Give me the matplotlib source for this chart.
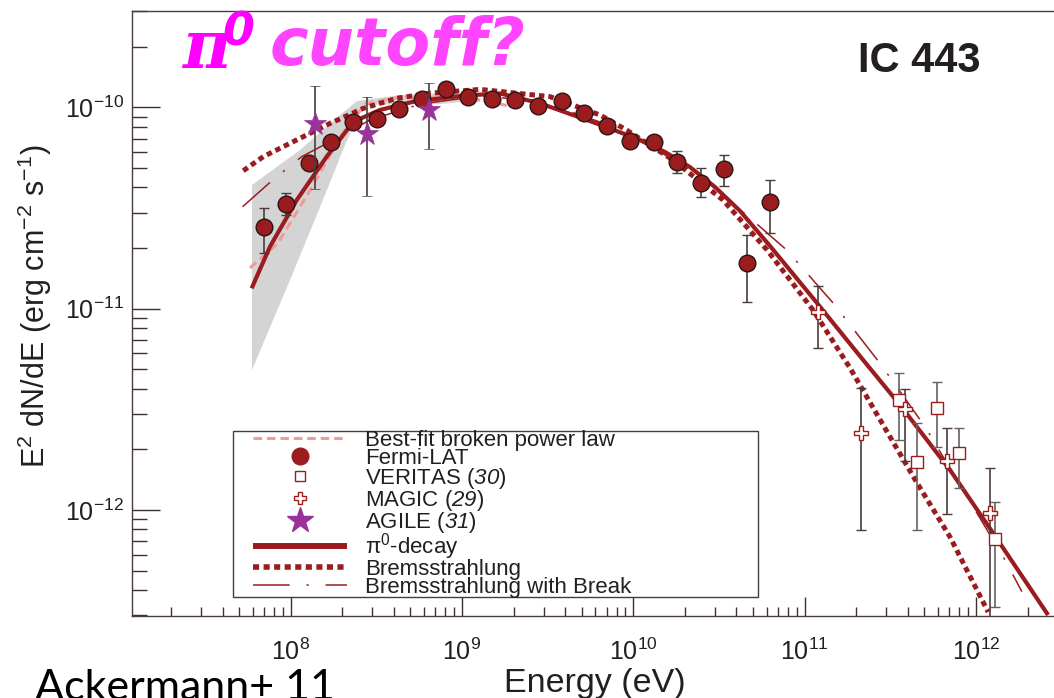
import numpy as np
import matplotlib
matplotlib.use("Agg")
import matplotlib.pyplot as plt
from matplotlib.lines import Line2D
from matplotlib.patches import Rectangle
from matplotlib.ticker import LogLocator, NullFormatter

plt.rcParams['font.family'] = ['Liberation Sans', 'DejaVu Sans']
plt.rcParams['mathtext.fontset'] = 'custom'
plt.rcParams['mathtext.rm'] = 'Liberation Sans'
plt.rcParams['mathtext.it'] = 'Liberation Sans:italic'
plt.rcParams['mathtext.sf'] = 'Liberation Sans:italic'
plt.rcParams['mathtext.bf'] = 'Liberation Sans:bold'

# Fermi-LAT points (E in eV, E^2 dN/dE in erg cm^-2 s^-1)
lat_e = [6.98e7, 9.33e7, 1.28e8, 1.72e8, 2.32e8, 3.18e8, 4.31e8, 5.86e8, 8.07e8,
         1.09e9, 1.50e9, 2.04e9, 2.79e9, 3.82e9, 5.15e9, 7.00e9, 9.57e9,
         1.32e10, 1.81e10, 2.47e10, 3.37e10, 4.59e10, 6.28e10]
lat_f = [2.54e-11, 3.31e-11, 5.27e-11, 6.70e-11, 8.45e-11, 8.75e-11, 9.77e-11, 1.10e-10, 1.23e-10,
         1.12e-10, 1.10e-10, 1.09e-10, 1.01e-10, 1.07e-10, 9.33e-11, 8.07e-11, 6.81e-11,
         6.74e-11, 5.37e-11, 4.22e-11, 4.92e-11, 1.68e-11, 3.37e-11]
lat_lo = [1.89e-11, 2.92e-11, 5.00e-11, 6.40e-11, 8.10e-11, 8.40e-11, 9.40e-11, 1.06e-10, 1.19e-10,
          1.08e-10, 1.06e-10, 1.05e-10, 0.97e-10, 1.03e-10, 8.95e-11, 7.70e-11, 6.45e-11,
          6.30e-11, 4.72e-11, 3.57e-11, 4.06e-11, 1.08e-11, 2.38e-11]
lat_hi = [3.16e-11, 3.77e-11, 5.55e-11, 7.00e-11, 8.80e-11, 9.10e-11, 1.01e-10, 1.14e-10, 1.27e-10,
          1.16e-10, 1.14e-10, 1.13e-10, 1.05e-10, 1.11e-10, 9.70e-11, 8.45e-11, 7.15e-11,
          7.20e-11, 6.07e-11, 4.98e-11, 5.79e-11, 2.32e-11, 4.36e-11]

# AGILE (31)
agile_e = [1.39e8, 2.78e8, 6.41e8]
agile_f = [8.26e-11, 7.36e-11, 9.70e-11]
agile_lo = [3.93e-11, 3.64e-11, 6.18e-11]
agile_hi = [1.28e-10, 1.12e-10, 1.32e-10]

# VERITAS (30)
veritas_e = [3.57e11, 4.51e11, 5.90e11, 7.96e11, 1.29e12]
veritas_f = [3.52e-12, 1.73e-12, 3.20e-12, 1.91e-12, 7.15e-13]
veritas_lo = [2.22e-12, 7.94e-13, 2.06e-12, 1.28e-12, 3.30e-13]
veritas_hi = [4.81e-12, 2.71e-12, 4.31e-12, 2.56e-12, 1.09e-12]

# MAGIC (29)
magic_e = [1.20e11, 2.13e11, 3.85e11, 6.75e11, 1.20e12]
magic_f = [9.66e-12, 2.40e-12, 3.17e-12, 1.75e-12, 9.62e-13]
magic_lo = [6.37e-12, 7.94e-13, 1.75e-12, 9.51e-13, 1.0e-13]
magic_hi = [1.29e-11, 4.02e-12, 3.99e-12, 2.54e-12, 1.61e-12]

# model curves, log10(E/eV) and log10(E^2 dN/dE)
pi0_loge = [7.772, 7.879, 8.035, 8.210, 8.365, 8.521, 8.716, 9.008, 9.222, 9.455,
            9.805, 10.039, 10.185, 10.331, 10.477, 10.623, 10.798, 11.072, 11.323,
            11.557, 11.849, 12.100, 12.421]
pi0_logf = [-10.899, -10.692, -10.461, -10.245, -10.072, -10.013, -9.972, -9.942, -9.931, -9.980,
            -10.086, -10.162, -10.222, -10.297, -10.396, -10.515, -10.689, -10.972, -11.236,
            -11.479, -11.802, -12.115, -12.522]

brems_loge = [7.723, 7.840, 8.035, 8.229, 8.424, 8.619, 8.813, 9.105, 9.514,
              9.805, 9.961, 10.232, 10.524, 10.781, 11.049, 11.265, 11.458, 11.656, 11.849, 12.071]
brems_logf = [-10.315, -10.245, -10.162, -10.080, -10.005, -9.955, -9.930, -9.911, -9.947,
              -10.038, -10.113, -10.262, -10.461, -10.709, -11.007, -11.295, -11.578, -11.866,
              -12.135, -12.507]

brk_loge = [7.719, 7.883, 8.064, 8.229, 8.463, 8.755, 9.105, 9.455, 9.805, 10.097,
            10.389, 10.681, 10.895, 11.168, 11.440, 11.703, 11.937, 12.170, 12.268]
brk_logf = [-10.494, -10.370, -10.245, -10.171, -10.063, -9.984, -9.944, -9.969, -10.073, -10.192,
            -10.341, -10.550, -10.709, -10.974, -11.272, -11.587, -11.918, -12.249, -12.406]

bpl_loge = [7.762, 7.926, 8.124, 8.288, 8.434, 8.638, 8.930, 9.105, 9.280]
bpl_logf = [-10.798, -10.674, -10.396, -10.148, -9.984, -9.949, -9.949, -9.964, -9.994]

# LAT butterfly (upper edge left to right, lower edge right to left)
band_up_loge = [7.774, 8.054, 8.288, 8.387, 8.638, 8.871, 9.046, 9.105]
band_up_logf = [-10.386, -10.212, -10.038, -9.969, -9.939, -9.929, -9.939, -9.954]
band_lo_loge = [9.105, 9.046, 8.871, 8.638, 8.422, 8.317, 8.188, 7.996, 7.774]
band_lo_logf = [-9.954, -9.969, -9.984, -9.984, -9.989, -10.187, -10.461, -10.858, -11.305]

dark_red = '#9b1c1f'
pink = '#f29a9a'
purple = '#993399'
err_col = '#4a3c3c'
ink = '#231f20'

W, H = 1054, 698
fig = plt.figure(figsize=(W / 100, H / 100), dpi=100)
ax = fig.add_axes([132 / W, (H - 616) / H, (1057.5 - 132) / W, (616 - 10.7) / H])
ax.set_xscale('log')
ax.set_yscale('log')
ax.set_xlim(10 ** 7.0736, 10 ** 12.476)
ax.set_ylim(10 ** -12.527, 10 ** -9.520)

band_x = np.power(10.0, band_up_loge + band_lo_loge)
band_y = np.power(10.0, band_up_logf + band_lo_logf)
ax.fill(band_x, band_y, color='#d4d4d4', lw=0, zorder=1)

ax.plot(np.power(10.0, bpl_loge), np.power(10.0, bpl_logf), color=pink, lw=2.2,
        ls=(0, (2.8, 1.6)), zorder=2)
ax.plot(np.power(10.0, brk_loge), np.power(10.0, brk_logf), color=dark_red, lw=1.1,
        ls=(0, (24, 11, 1.5, 11)), zorder=2)
ax.plot(np.power(10.0, brems_loge), np.power(10.0, brems_logf), color=dark_red, lw=3.6,
        ls=(0, (1.1, 0.8)), zorder=3)
ax.plot(np.power(10.0, pi0_loge), np.power(10.0, pi0_logf), color=dark_red, lw=3.0,
        solid_capstyle='butt', solid_joinstyle='round', zorder=3)


def yerr(f, lo, hi):
    f = np.asarray(f)
    return [f - np.asarray(lo), np.asarray(hi) - f]


ax.errorbar(veritas_e, veritas_f, yerr=yerr(veritas_f, veritas_lo, veritas_hi), fmt='s',
            ms=8, mfc='white', mec=dark_red, mew=1.0, ecolor='#6a6060', elinewidth=1.2,
            capsize=3.5, capthick=1.0, zorder=4)
ax.errorbar(magic_e, magic_f, yerr=yerr(magic_f, magic_lo, magic_hi), fmt='P',
            ms=10, mfc='white', mec=dark_red, mew=1.0, ecolor=err_col, elinewidth=1.2,
            capsize=3.5, capthick=1.0, zorder=4)
ax.errorbar(lat_e, lat_f, yerr=yerr(lat_f, lat_lo, lat_hi), fmt='o',
            ms=12, mfc=dark_red, mec='#2a1515', mew=1.0, ecolor=err_col, elinewidth=1.2,
            capsize=3.5, capthick=1.0, zorder=5)
ax.errorbar(agile_e, agile_f, yerr=yerr(agile_f, agile_lo, agile_hi), fmt='*',
            ms=17, mfc=purple, mec=purple, mew=0.5, ecolor=err_col, elinewidth=1.2,
            capsize=3.5, capthick=1.0, zorder=6)

# axes cosmetics
for side in ('left', 'bottom', 'top', 'right'):
    ax.spines[side].set_color('#4a3c3c')
    ax.spines[side].set_linewidth(1.0)
ax.xaxis.set_minor_locator(LogLocator(base=10, subs=np.arange(2, 10)))
ax.yaxis.set_minor_locator(LogLocator(base=10, subs=np.arange(2, 10)))
ax.xaxis.set_minor_formatter(NullFormatter())
ax.yaxis.set_minor_formatter(NullFormatter())
ax.tick_params(which='both', direction='in', top=False, right=False,
               colors='#3b3131', labelcolor=ink, labelsize=18, width=1.0)
ax.tick_params(axis='y', which='major', length=20, pad=6)
ax.tick_params(axis='y', which='minor', length=10.5)
ax.tick_params(axis='x', which='major', length=13.5, pad=16)
ax.tick_params(axis='x', which='minor', length=6.5)

fig.text(35 / W, 1 - 306 / H, r'E$^2$ dN/dE (erg cm$^{-2}$ s$^{-1}$)', rotation=90,
         ha='center', va='center', fontsize=22, color=ink)
fig.text(595 / W, 1 - 692 / H, 'Energy (eV)', ha='center', va='baseline',
         fontsize=24.5, color=ink)

# legend
ax.add_patch(Rectangle((233 / W, 1 - 597 / H), 525 / W, 166 / H, transform=fig.transFigure,
                       facecolor='white', edgecolor='#4a3c3c', lw=1.0, zorder=7, clip_on=False))
handles = [
    Line2D([], [], color=pink, lw=2.2, ls=(0, (2.8, 1.6))),
    Line2D([], [], ls='none', marker='o', ms=12, mfc=dark_red, mec=dark_red),
    Line2D([], [], ls='none', marker='s', ms=7, mfc='white', mec=dark_red, mew=1.0),
    Line2D([], [], ls='none', marker='P', ms=9, mfc='white', mec=dark_red, mew=1.0),
    Line2D([], [], ls='none', marker='*', ms=19, mfc=purple, mec=purple),
    Line2D([], [], color=dark_red, lw=4.3, solid_capstyle='butt'),
    Line2D([], [], color=dark_red, lw=4.0, ls=(0, (1.1, 0.8))),
    Line2D([], [], color=dark_red, lw=1.1, ls=(0, (24, 11, 1.5, 11))),
]
labels = ['Best-fit broken power law', 'Fermi-LAT', r'VERITAS ($\mathsf{30}$)',
          r'MAGIC ($\mathsf{29}$)', r'AGILE ($\mathsf{31}$)', r'$\mathrm{\pi}^0$-decay',
          'Bremsstrahlung', 'Bremsstrahlung with Break']
leg = ax.legend(handles, labels, loc='upper left', bbox_to_anchor=(253 / W, 1 - 430 / H),
                bbox_transform=fig.transFigure, frameon=False, fontsize=16,
                handlelength=4.25, handletextpad=0.8, labelspacing=-0.14,
                borderpad=0, borderaxespad=0)
leg.set_zorder(8)
for t in leg.get_texts():
    t.set_color(ink)

# annotations
fig.text(858 / W, 1 - 71.7 / H, 'IC 443', fontsize=30, fontweight='bold', color=ink,
         va='baseline')
fig.text(182 / W, 1 - 68 / H, 'π', fontsize=48, family='DejaVu Serif', style='italic',
         fontweight='bold', color='#ff00ff', va='baseline')
fig.text(222 / W, 1 - 45 / H, '0', fontsize=33, family='DejaVu Sans', style='oblique',
         fontweight='bold', color='#ff00ff', va='baseline')
fig.text(270 / W, 1 - 65 / H, 'cutoff?', fontsize=47, family='DejaVu Sans', style='oblique',
         fontweight='bold', color='#ff44ff', va='baseline')
fig.text(35 / W, 1 - 700 / H, 'Ackermann+ 11', fontsize=31, family=['Lato', 'DejaVu Sans'],
         color='black', va='baseline')

fig.savefig('out.png', dpi=100)
